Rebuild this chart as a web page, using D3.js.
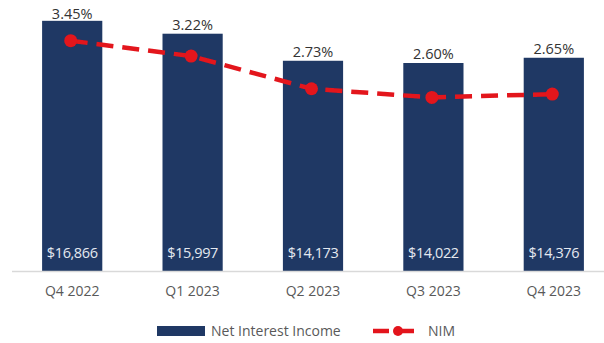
<!DOCTYPE html>
<html>
<head>
<meta charset="utf-8">
<script src="https://cdn.jsdelivr.net/npm/d3@7"></script>
<style>
  html, body { margin: 0; padding: 0; background: #fff; }
  svg { display: block; }
  text { font-family: "Open Sans", "DejaVu Sans", sans-serif; }
</style>
</head>
<body>
<svg id="chart" width="604" height="343"></svg>
<script>
// Quarterly net interest income ($) and net interest margin (%)
const quarters = ["Q4 2022", "Q1 2023", "Q2 2023", "Q3 2023", "Q4 2023"];
const netInterestIncome = [16866, 15997, 14173, 14022, 14376];
const nim = [3.45, 3.22, 2.73, 2.60, 2.65];
const seriesNames = ["Net Interest Income", "NIM"];

const barColor = "#1f3864";
const lineColor = "#e3141c";

const svg = d3.select("#chart");
const baseY = 271;

const x = d3.scaleBand().domain(quarters).range([12, 614])
  .paddingInner(0.5).paddingOuter(0.25);
const yBar = d3.scaleLinear().domain([0, 18000]).range([baseY, 4]);
const yNim = d3.scaleLinear().domain([0, 4]).range([baseY, 4]);

const rows = quarters.map((q, i) => ({ q, nii: netInterestIncome[i], nim: nim[i] }));
const cx = d => x(d.q) + x.bandwidth() / 2;

// Bars
svg.append("g").selectAll("rect").data(rows).join("rect")
  .attr("x", d => x(d.q))
  .attr("y", d => yBar(d.nii))
  .attr("width", x.bandwidth())
  .attr("height", d => baseY - yBar(d.nii))
  .attr("fill", barColor);

// Income labels inside the bar base
svg.append("g").selectAll("text").data(rows).join("text")
  .attr("x", cx)
  .attr("y", baseY - 13)
  .attr("text-anchor", "middle")
  .attr("font-size", 14.5)
  .attr("letter-spacing", -0.4)
  .attr("fill", "#e4e8f0")
  .text(d => "$" + d3.format(",")(d.nii));

// NIM labels above each bar
svg.append("g").selectAll("text").data(rows).join("text")
  .attr("x", cx)
  .attr("y", d => Math.max(yBar(d.nii) - 4, 19))
  .attr("text-anchor", "middle")
  .attr("font-size", 14.5)
  .attr("fill", "#333")
  .text(d => d3.format(".2f")(d.nim) + "%");

// Category axis
const axis = svg.append("g")
  .attr("transform", `translate(0,${baseY})`)
  .call(d3.axisBottom(x).tickSize(0).tickPadding(15));
axis.select(".domain").attr("stroke", "#d9d9d9").attr("stroke-width", 1.5)
  .attr("d", "M12,0.5H604");
axis.selectAll("text")
  .attr("font-size", 14)
  .attr("fill", "#595959")
  .style("font-family", '"Open Sans", sans-serif');

// NIM dashed line with markers
const defs = svg.append("defs");
defs.append("filter").attr("id", "soft")
  .append("feGaussianBlur").attr("stdDeviation", 0.7);

const line = d3.line()
  .x(d => cx(d) - 1.5)
  .y(d => yNim(d.nim));

svg.append("path").datum(rows)
  .attr("d", line)
  .attr("fill", "none")
  .attr("stroke", lineColor)
  .attr("stroke-width", 4.5)
  .attr("stroke-dasharray", "17,9")
  .attr("filter", "url(#soft)");

svg.append("g").selectAll("circle").data(rows).join("circle")
  .attr("cx", d => cx(d) - 1.5)
  .attr("cy", d => yNim(d.nim))
  .attr("r", 6.5)
  .attr("fill", lineColor)
  .attr("filter", "url(#soft)");

// Legend
const legend = svg.append("g");
legend.append("rect")
  .attr("x", 157).attr("y", 326).attr("width", 48).attr("height", 10)
  .attr("fill", barColor);
legend.append("text")
  .attr("x", 211).attr("y", 336)
  .attr("font-size", 14).attr("fill", "#595959")
  .text(seriesNames[0]);
legend.append("line")
  .attr("x1", 373).attr("x2", 422).attr("y1", 331).attr("y2", 331)
  .attr("stroke", lineColor).attr("stroke-width", 4.5)
  .attr("stroke-dasharray", "16,9");
legend.append("circle")
  .attr("cx", 398).attr("cy", 331).attr("r", 5)
  .attr("fill", lineColor);
legend.append("text")
  .attr("x", 428).attr("y", 336)
  .attr("font-size", 14).attr("fill", "#595959")
  .text(seriesNames[1]);
</script>
</body>
</html>
